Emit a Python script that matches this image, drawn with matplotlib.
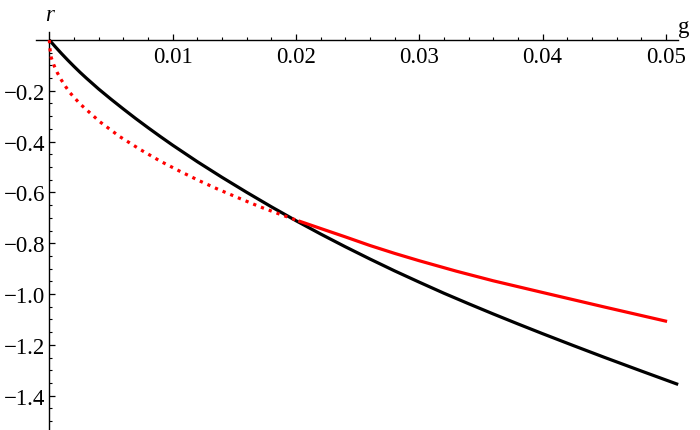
import matplotlib
matplotlib.use("Agg")
import matplotlib.pyplot as plt
from matplotlib.ticker import FixedLocator, FixedFormatter

# ---- data ----
black_g = [0, 0.0005, 0.001, 0.0015, 0.002, 0.0025, 0.003, 0.004, 0.005, 0.006, 0.007,
           0.008, 0.009, 0.010, 0.012, 0.014, 0.016, 0.018, 0.020, 0.022, 0.024, 0.026,
           0.028, 0.030, 0.032, 0.034, 0.036, 0.038, 0.040, 0.0425, 0.045, 0.048, 0.051]
black_r = [0, -0.0275, -0.054, -0.0795, -0.104, -0.1276, -0.150, -0.193, -0.233, -0.2715,
           -0.309, -0.345, -0.380, -0.414, -0.479, -0.5405, -0.5995, -0.6565, -0.7113,
           -0.7637, -0.8139, -0.8622, -0.9089, -0.9534, -0.9969, -1.0382, -1.0785,
           -1.1177, -1.1561, -1.2030, -1.2491, -1.3030, -1.3562]

red_dot_g = [0, 0.00006, 0.00016, 0.00038, 0.00065, 0.00097, 0.00133, 0.00168, 0.0025,
             0.0041, 0.0057, 0.0074, 0.0090, 0.0106, 0.0122, 0.0137, 0.0155, 0.0171,
             0.0187, 0.0202]
red_dot_r = [0, -0.039, -0.070, -0.100, -0.129, -0.157, -0.184, -0.208, -0.252,
             -0.322, -0.380, -0.432, -0.477, -0.517, -0.555, -0.588, -0.625, -0.657,
             -0.686, -0.712]

red_g = [0.0202, 0.022, 0.024, 0.026, 0.028, 0.030, 0.033, 0.036, 0.040, 0.045, 0.0501]
red_r = [-0.712, -0.742, -0.775, -0.809, -0.840, -0.869, -0.910, -0.948, -0.994,
         -1.051, -1.108]

x_major = [0.01, 0.02, 0.03, 0.04, 0.05]
x_labels = ["0.01", "0.02", "0.03", "0.04", "0.05"]
y_major = [-1.4, -1.2, -1.0, -0.8, -0.6, -0.4, -0.2]
y_labels = ["\u22121.4", "\u22121.2", "\u22121.0", "\u22120.8", "\u22120.6", "\u22120.4", "\u22120.2"]

FONT = "Liberation Serif"
FS = 16.5

fig = plt.figure(figsize=(7.0, 4.31), dpi=100)
ax = fig.add_axes([0, 0, 1, 1])
ax.set_xlim(-0.0040, 0.05277)
ax.set_ylim(-1.5354, 0.1614)

ax.plot(black_g, black_r, color="black", lw=2.3, solid_capstyle="butt",
        solid_joinstyle="round", zorder=3)
ax.plot(red_dot_g, red_dot_r, color="#ff0000", lw=2.3, linestyle=(0, (1, 1.6)),
        dash_capstyle="butt", zorder=4)
ax.plot(red_g, red_r, color="#ff0000", lw=2.3, solid_capstyle="butt",
        solid_joinstyle="round", zorder=4)

for s in ("top", "right"):
    ax.spines[s].set_visible(False)
ax.spines["left"].set_position(("data", 0))
ax.spines["bottom"].set_position(("data", 0))
ax.spines["left"].set_bounds(-1.535, 0.03)
ax.spines["bottom"].set_bounds(-0.0011, 0.0510)
for s in ("left", "bottom"):
    ax.spines[s].set_linewidth(1.0)

x_minor = [i * 0.002 for i in range(1, 26) if i % 5 != 0]
y_minor = [-0.05 * i for i in range(1, 31) if i % 4 != 0]

ax.xaxis.set_major_locator(FixedLocator(x_major))
ax.xaxis.set_major_formatter(FixedFormatter(x_labels))
ax.xaxis.set_minor_locator(FixedLocator(x_minor))
ax.yaxis.set_major_locator(FixedLocator(y_major))
ax.yaxis.set_major_formatter(FixedFormatter(y_labels))
ax.yaxis.set_minor_locator(FixedLocator(y_minor))

ax.tick_params(which="major", direction="in", length=4.2, width=0.9)
ax.tick_params(which="minor", direction="in", length=2.4, width=0.8)
ax.tick_params(axis="x", which="major", pad=4)
ax.tick_params(axis="y", which="major", pad=3)

for lab in ax.get_xticklabels() + ax.get_yticklabels():
    lab.set_fontfamily(FONT)
    lab.set_fontsize(FS)

ax.text(0, 0.102, "r", family=FONT, style="italic", fontsize=FS,
        ha="center", va="center")
ax.text(0.0510, 0.030, "g", family=FONT, fontsize=FS, ha="left", va="baseline")

fig.savefig("out.png", dpi=100)
